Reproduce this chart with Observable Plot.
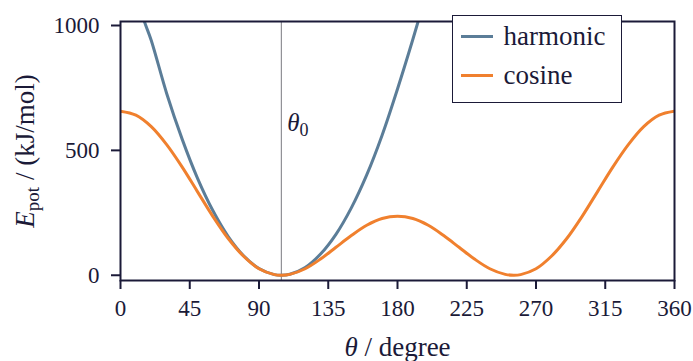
<!DOCTYPE html>
<html>
<head>
<meta charset="utf-8">
<script src="https://cdn.jsdelivr.net/npm/d3@7"></script>
<script src="https://cdn.jsdelivr.net/npm/@observablehq/plot@0.6"></script>
<style>
  html, body { margin: 0; padding: 0; background: #fff; }
  #wrap { position: relative; width: 693px; height: 361px; color: #1b1a38; font-family: 'Liberation Serif'; }
  #legend { position: absolute; left: 452px; top: 15px; width: 168px; height: 86px; border: 1.6px solid #1b1a38; background: #fff; box-sizing: content-box; }
  .item { position: absolute; left: 7.5px; display: flex; align-items: center; font-size: 27px; line-height: 1; font-family: 'Liberation Serif'; }
  .sw { width: 32px; height: 3px; margin-right: 11px; }
</style>
</head>
<body>
<div id="wrap"></div>
<script>
// ---- data ----
const theta0 = 104.5;
const cosTheta = [0, 10, 20, 30, 40, 50, 60, 70, 80, 90, 100, 104.5, 110, 120, 130, 140, 150, 160, 170, 180,
  190, 200, 210, 220, 230, 240, 250, 255.5, 260, 270, 280, 290, 300, 310, 320, 330, 340, 350, 360];
const cosEnergy = [657, 641, 595, 523, 434, 335, 236, 147, 76, 26, 2.5, 0, 3.5, 26, 65, 112, 159, 200, 227, 236,
  227, 200, 159, 112, 65, 26, 3.5, 0, 2.5, 26, 76, 147, 236, 335, 434, 523, 595, 641, 657];
const harmTheta = [10, 15, 20, 30, 40, 50, 60, 70, 80, 90, 100, 104.5, 110, 120, 130, 140, 150, 160, 170, 180, 190, 195, 200];
const harmEnergy = [1150, 1026, 940, 728, 546, 389, 259, 155, 78, 27, 2.6, 0, 3.9, 31, 85, 164, 270, 402, 561, 746, 945, 1050, 1160];
const xTicks = [0, 45, 90, 135, 180, 225, 270, 315, 360];
const yTicks = [0, 500, 1000];
const seriesNames = ["harmonic", "cosine"];
const seriesColors = ["#5b7d98", "#f0802e"];
const theta0LabelY = 610;

const ink = "#1b1a38";
const serif = "Liberation Serif";
const harmonic = harmTheta.map((t, i) => ({t, e: harmEnergy[i]}));
const cosine = cosTheta.map((t, i) => ({t, e: cosEnergy[i]}));

const chart = Plot.plot({
  width: 693,
  height: 361,
  marginLeft: 120,
  marginRight: 19,
  marginTop: 21,
  marginBottom: 81,
  style: {fontFamily: serif, color: ink, background: "#fff", overflow: "visible"},
  x: {domain: [0, 360]},
  y: {domain: [-21, 1016]},
  marks: [
    Plot.ruleX([theta0], {stroke: "#7a7a80", strokeWidth: 1}),
    Plot.line(harmonic, {x: "t", y: "e", stroke: seriesColors[0], strokeWidth: 3, curve: "catmull-rom", clip: true}),
    Plot.line(cosine, {x: "t", y: "e", stroke: seriesColors[1], strokeWidth: 3, curve: "catmull-rom", clip: true}),
    Plot.text([{t: theta0, e: theta0LabelY}], {x: "t", y: "e", text: () => "θ0", textAnchor: "start", dx: 6, fontSize: 25, fill: ink}),
    Plot.frame({stroke: ink, strokeWidth: 2}),
    Plot.axisX({ticks: xTicks, tickSize: 9, tickPadding: 10, fontSize: 23, strokeWidth: 2, stroke: ink,
      tickFormat: d => String(d), label: "θ / degree", labelAnchor: "center", labelOffset: 75}),
    Plot.axisY({ticks: yTicks, tickSize: 9, tickPadding: 12, fontSize: 23, strokeWidth: 2, stroke: ink,
      tickFormat: d => String(d), label: "E / (kJ/mol)", labelAnchor: "center", labelOffset: 106})
  ]
});

const svg = d3.select(chart);
svg.selectAll("text").attr("font-family", serif);
// x label: italic theta
const xl = svg.select('g[aria-label="x-axis label"] text');
xl.text(null).attr("font-size", 27).attr("fill", ink);
xl.append("tspan").attr("font-style", "italic").text("θ");
xl.append("tspan").text(" / degree");
// y label: E_pot
const yl = svg.select('g[aria-label="y-axis label"] text');
yl.text(null).attr("font-size", 27).attr("fill", ink);
yl.append("tspan").attr("font-style", "italic").text("E");
yl.append("tspan").attr("font-size", 19).attr("dy", 5).text("pot");
yl.append("tspan").attr("dy", -5).text(" / (kJ/mol)");
// theta0 label
const tl = svg.select('g[aria-label="text"] text');
tl.text(null);
tl.append("tspan").attr("font-style", "italic").text("θ");
tl.append("tspan").attr("font-size", 18).attr("dy", 5).text("0");

const wrap = document.getElementById("wrap");
wrap.appendChild(chart);

const legend = document.createElement("div");
legend.id = "legend";
seriesNames.forEach((name, i) => {
  const it = document.createElement("div");
  it.className = "item";
  it.style.top = (i === 0 ? 6.5 : 46) + "px";
  const sw = document.createElement("div");
  sw.className = "sw";
  sw.style.background = seriesColors[i];
  const tx = document.createElement("span");
  tx.textContent = name;
  it.appendChild(sw);
  it.appendChild(tx);
  legend.appendChild(it);
});
wrap.appendChild(legend);
</script>
</body>
</html>
